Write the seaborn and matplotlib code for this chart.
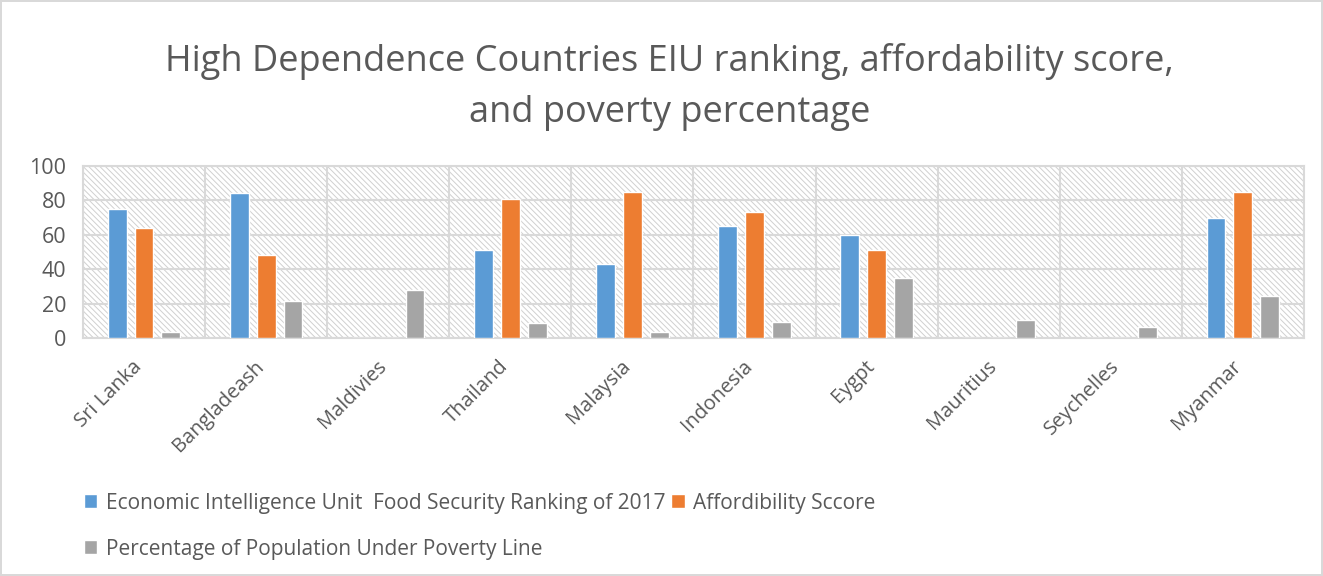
import numpy as np
import pandas as pd
import matplotlib.pyplot as plt
import matplotlib.transforms as mtransforms
import seaborn as sns

countries = ['Sri Lanka', 'Bangladeash', 'Maldivies', 'Thailand', 'Malaysia',
             'Indonesia', 'Eygpt', 'Mauritius', 'Seychelles', 'Myanmar']
eiu_rank = [75, 84, 0, 51, 43, 65, 60, 0, 0, 70]
afford = [64, 48, 0, 81, 85, 73, 51, 0, 0, 85]
poverty = [3.7, 21.5, 27.7, 8.7, 3.5, 9.2, 35, 10.5, 6.6, 24.6]
series = ['Economic Intelligence Unit  Food Security Ranking of 2017',
          'Affordibility Sccore',
          'Percentage of Population Under Poverty Line']
colors = ['#5b9bd5', '#ed7d31', '#a5a5a5']

df = pd.DataFrame({'country': countries * 3,
                   'value': eiu_rank + afford + poverty,
                   'series': [series[0]] * 10 + [series[1]] * 10 + [series[2]] * 10})

sns.set_style('white')
plt.rcParams['font.family'] = ['Open Sans', 'DejaVu Sans']
plt.rcParams['hatch.color'] = '#d0d0d0'
plt.rcParams['hatch.linewidth'] = 0.7

txt = '#595959'
grid = '#d9d9d9'

fig = plt.figure(figsize=(13.23, 5.76), dpi=100)
fig.patch.set_edgecolor('#d9d9d9')
fig.patch.set_linewidth(1.5)
ax = fig.add_axes([0.0627, 0.413, 0.9229, 0.299])

# hatched plot-area background
ax.patch.set_facecolor('white')
ax.patch.set_hatch('\\\\\\\\\\\\')
ax.patch.set_edgecolor('#d0d0d0')

sns.barplot(data=df, x='country', y='value', hue='series', palette=colors,
            width=0.66, gap=0.3, ax=ax, saturation=1, legend=True, zorder=3)

ax.set_ylim(0, 100)
ax.set_xlim(-0.5, 9.5)
ax.set_yticks(range(0, 101, 20))
ax.set_xticks(np.arange(-0.5, 10, 1), minor=True)
ax.grid(axis='y', which='major', color=grid, linewidth=1.5, zorder=1)
ax.grid(axis='x', which='minor', color=grid, linewidth=1.5, zorder=1)
ax.set_axisbelow(True)
for s in ax.spines.values():
    s.set_color(grid)
    s.set_linewidth(1.5)
ax.tick_params(axis='both', which='both', length=0, labelcolor=txt)
ax.tick_params(axis='y', pad=12, labelsize=15.5)
ax.tick_params(axis='x', labelsize=14.5, pad=6)
ax.set_xlabel('')
ax.set_ylabel('')
shift = mtransforms.ScaledTranslation(-0.12, -0.1, fig.dpi_scale_trans)
for lab in ax.get_xticklabels():
    lab.set_rotation(45)
    lab.set_ha('right')
    lab.set_rotation_mode('anchor')
    lab.set_transform(lab.get_transform() + shift)

fig.suptitle('High Dependence Countries EIU ranking, affordability score,\nand poverty percentage',
             x=0.506, y=0.925, fontsize=26, color=txt, linespacing=1.55)

handles, labels = ax.get_legend_handles_labels()
ax.legend([handles[0], handles[2], handles[1]], [labels[0], labels[2], labels[1]],
          ncol=2, loc='upper left', bbox_to_anchor=(0.057, 0.159), bbox_transform=fig.transFigure,
          frameon=False, fontsize=15, labelcolor=txt, handlelength=0.65, handleheight=0.65,
          handletextpad=0.4, columnspacing=0.3, labelspacing=1.2, borderaxespad=0)

fig.savefig('out.png', dpi=100)
